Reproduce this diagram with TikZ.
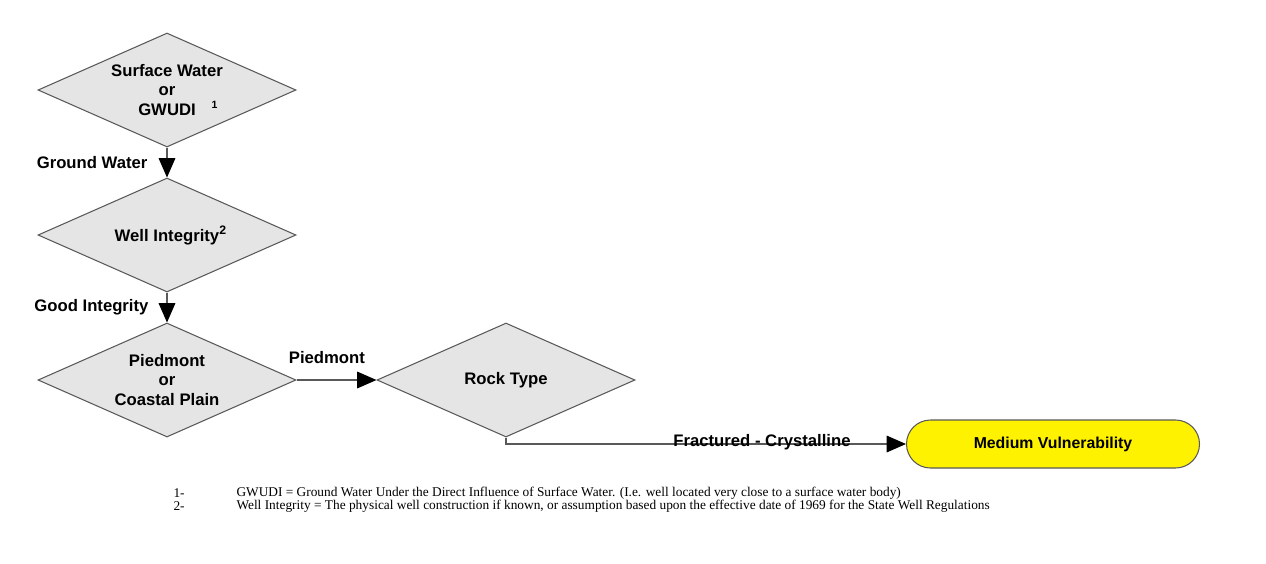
\documentclass[tikz,border=0pt]{standalone}
\usepackage{fontspec}
\setmainfont{Liberation Sans}
\newfontfamily\notefont{Liberation Serif}
\usetikzlibrary{shapes.geometric,arrows.meta}

\begin{document}
\begin{tikzpicture}[x=0.2mm,y=-0.2mm,line width=0.6pt,
  decision/.style={diamond,draw=black!65,fill=black!10,inner sep=0pt,
    shape aspect=2.26,minimum width=51.6mm,minimum height=22.8mm,
    align=center,font=\bfseries\fontsize{9.5}{11.2}\selectfont},
  outcome/.style={rectangle,rounded corners=4.8mm,draw=black!65,fill=yellow,
    minimum width=58.6mm,minimum height=9.6mm,font=\bfseries\fontsize{9}{10.8}\selectfont},
  flow/.style={draw=black!65,-{Triangle[length=11pt,width=9.5pt,black]}},
  branch/.style={inner sep=0pt,font=\bfseries\fontsize{9.5}{10.8}\selectfont},
  note/.style={inner sep=0pt,anchor=west,font=\notefont\fontsize{7.6}{8}\selectfont}]
  \fill[white] (0,0) rectangle (1266,563);
  \useasboundingbox (0,0) rectangle (1266,563);
  % decisions
  \node[decision] (surface) at (167,90) {Surface Water\\or\\GWUDI\rlap{\hspace{9pt}\raisebox{4pt}{\fontsize{6}{6}\selectfont 1}}};
  \node[decision] (integrity) at (167,235) {Well Integrity\rlap{\raisebox{4pt}{\fontsize{7}{7}\selectfont 2}}};
  \node[decision] (region) at (167,380) {Piedmont\\or\\Coastal Plain};
  \node[decision] (rock) at (506,380) {Rock Type};
  \node[outcome] (medium) at (1053,444) {Medium Vulnerability};
  % connectors
  \draw[flow] (surface.south) -- (integrity.north)
    node[branch,midway,left=3.8mm] {Ground Water};
  \draw[flow] (integrity.south) -- (region.north)
    node[branch,midway,left=3.6mm] {Good Integrity};
  \draw[flow] (region.east) -- (rock.west)
    node[branch,pos=0.38,above=3.2mm] {Piedmont};
  \draw[flow] (rock.south) |- (medium.west)
    node[branch,pos=0.82,yshift=1pt] {Fractured - Crystalline};
  % footnotes
  \node[note] (num1) at (173,493) {1-};
  \node[note] (foot1) at (236,493) {GWUDI = Ground Water Under the Direct Influence of Surface Water. (I.e. well located very close to a surface water body)};
  \node[note] (num2) at (173,506) {2-};
  \node[note] (foot2) at (236,506) {Well Integrity = The physical well construction if known, or assumption based upon the effective date of 1969 for the State Well Regulations};
\end{tikzpicture}
\end{document}
